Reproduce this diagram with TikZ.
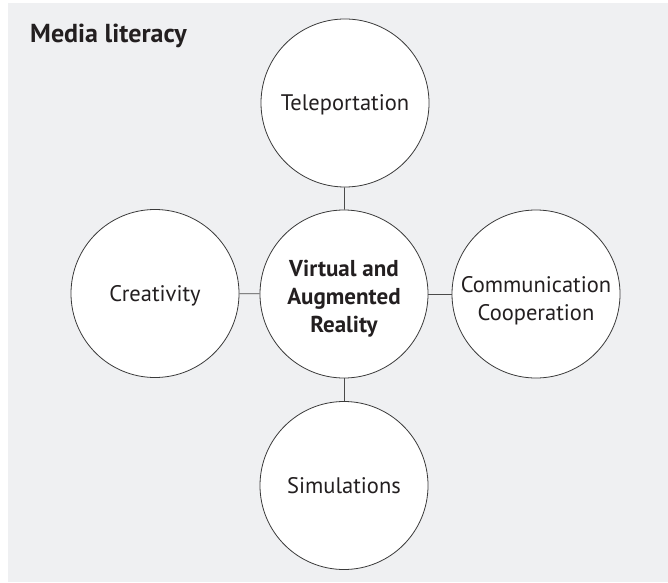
\documentclass[tikz,border=0pt]{standalone}
\usepackage{fontspec}
\setmainfont{PT Sans}
\definecolor{bgc}{HTML}{EFF0F2}
\definecolor{txt}{HTML}{231F20}
\definecolor{edge}{HTML}{3A3A3A}
\definecolor{conn}{HTML}{4A4A4A}
\begin{document}
\begin{tikzpicture}[x=1pt,y=1pt,
  topic/.style={circle,draw=edge,line width=0.8pt,fill=white,minimum size=168pt,inner sep=0pt,
    text=txt,align=center,font=\fontsize{22.5}{28}\selectfont,text height=16pt,text depth=1pt},
  hub/.style={topic,font=\fontsize{23}{28}\selectfont\bfseries,text height=76pt,text depth=0pt},
  link/.style={draw=conn,line width=0.8pt}]
\useasboundingbox (0,0) rectangle (668,582);
\fill[bgc] (8,0) rectangle (668,579);
\node[anchor=base west,text=txt,inner sep=0pt,font=\fontsize{26}{30}\selectfont\bfseries] (title) at (30,539.5) {Media literacy};
\node[hub] (c) at (344,288) {Virtual and\\Augmented\\Reality};
\node[topic] (t) at (345,479) {Teleportation};
\node[topic] (b) at (344,96.5) {Simulations};
\node[topic] (l) at (155,288.5) {Creativity};
\node[topic,text height=52pt,text depth=0pt] (r) at (536,288) {Communication\\Cooperation};
\draw[link] (c) -- (t);
\draw[link] (c) -- (b);
\draw[link] (c) -- (l);
\draw[link] (c) -- (r);
\end{tikzpicture}
\end{document}
